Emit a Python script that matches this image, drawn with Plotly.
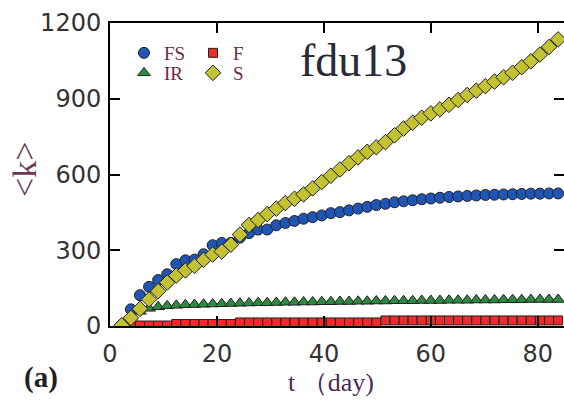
import plotly.graph_objects as go

t_days = [2.2, 3.9, 5.6, 7.3, 9.0, 10.7, 12.4, 14.1, 15.8, 17.5, 19.2, 20.9, 22.6,
          24.3, 26.0, 27.7, 29.4, 31.1, 32.8, 34.5, 36.2, 37.9, 39.6, 41.3, 43.0,
          44.7, 46.4, 48.1, 49.8, 51.5, 53.2, 54.9, 56.6, 58.3, 60.0, 61.7, 63.4,
          65.1, 66.8, 68.5, 70.2, 71.9, 73.6, 75.3, 77.0, 78.7, 80.4, 82.1, 83.8]

fs_vals = [4, 66, 122, 155, 182, 205, 245, 260, 263, 284, 320, 329, 329,
           350, 368, 382, 382, 399, 408, 416, 425, 431, 438, 447, 451,
           458, 465, 472, 479, 484, 490, 494, 498, 502, 505, 508, 511,
           513, 515, 517, 519, 520, 521, 522, 523, 524, 524, 525, 525]

s_vals = [3, 32, 68, 105, 138, 172, 200, 220, 238, 262, 283, 295, 322,
          362, 400, 420, 443, 465, 487, 504, 521, 545, 570, 595, 620,
          645, 668, 690, 708, 728, 755, 782, 805, 825, 842, 858, 876,
          895, 915, 932, 950, 968, 985, 1003, 1025, 1048, 1075, 1105, 1135]

ir_vals = [0, 35, 58, 70, 76, 80, 82, 84, 85, 86, 87, 88, 89,
           90, 91, 92, 92, 93, 94, 94, 95, 95, 96, 96, 97,
           97, 98, 98, 99, 99, 100, 100, 100, 101, 101, 101, 102,
           102, 102, 103, 103, 103, 104, 104, 104, 105, 105, 105, 105]

f_vals = [0, 0, 2, 2, 2, 2, 8, 8, 8, 8, 8, 8, 8,
          14, 14, 14, 14, 14, 14, 14, 14, 14, 14, 14, 14,
          14, 14, 14, 14, 22, 22, 22, 22, 22, 22, 22, 22,
          22, 22, 22, 22, 22, 22, 22, 22, 22, 22, 22, 22]

x_ticks = [0, 20, 40, 60, 80]
y_ticks = [0, 300, 600, 900, 1200]

W, H = 564, 400
L, R, T, B = 110, 0, 23, 74
pw, ph = W - L - R, H - T - B

def px(xp):
    return (xp - L) / pw

def py(yp):
    return (H - B - yp) / ph

outline = dict(color="#222222", width=1)
fig = go.Figure()
fig.add_trace(go.Scatter(x=t_days, y=fs_vals, mode="markers", name="FS", legend="legend",
                         marker=dict(symbol="circle", size=11, color="#1f55b5", line=outline)))
fig.add_trace(go.Scatter(x=t_days, y=ir_vals, mode="markers", name="IR", legend="legend2",
                         marker=dict(symbol="triangle-up", size=11, color="#2e8a3e", line=outline)))
fig.add_trace(go.Scatter(x=t_days, y=f_vals, mode="markers", name="F", legend="legend3",
                         marker=dict(symbol="square", size=9, color="#ee2a2a", line=outline)))
fig.add_trace(go.Scatter(x=t_days, y=s_vals, mode="markers", name="S", legend="legend4",
                         marker=dict(symbol="diamond", size=12, color="#c2c232", line=outline)))

legend_font = dict(family="Liberation Serif", size=19, color="#6e2a44")

def leg(xl, yt):
    return dict(x=px(xl), y=py(yt), xanchor="left", yanchor="top", font=legend_font,
                bgcolor="rgba(0,0,0,0)", itemwidth=30, tracegroupgap=0)

fig.update_layout(
    width=W, height=H,
    margin=dict(l=L, r=R, t=T, b=B, autoexpand=False),
    paper_bgcolor="white", plot_bgcolor="white",
    showlegend=True,
    legend=leg(124, 34),
    legend2=leg(124, 54),
    legend3=leg(193, 34),
    legend4=leg(193, 54),
    xaxis=dict(range=[0, 84.9], tickvals=x_ticks, ticks="inside", ticklen=10, tickwidth=2,
               tickcolor="black", showline=True, linecolor="black", linewidth=2, mirror="ticks",
               showgrid=False, zeroline=False, ticklabelstandoff=5, automargin=False,
               tickfont=dict(family="DejaVu Sans", size=24, color="#333333")),
    yaxis=dict(range=[0, 1200], tickvals=y_ticks, ticks="inside", ticklen=10, tickwidth=2,
               tickcolor="black", showline=True, linecolor="black", linewidth=2, mirror="ticks",
               showgrid=False, zeroline=False, ticklabelstandoff=2, automargin=False,
               tickfont=dict(family="DejaVu Sans", size=24, color="#333333")),
    annotations=[
        dict(text="fdu13", x=px(298), y=py(60), xref="paper", yref="paper", xanchor="left",
             yanchor="middle", showarrow=False,
             font=dict(family="Liberation Serif", size=46, color="#2a2a3a")),
        dict(text="&lt;k&gt;", x=px(24), y=py(170), xref="paper", yref="paper",
             xanchor="center", yanchor="middle", textangle=-90, showarrow=False,
             font=dict(family="Liberation Serif", size=34, color="#6a3a55")),
        dict(text="t （day)", x=px(331), y=py(382), xref="paper", yref="paper",
             xanchor="center", yanchor="middle", showarrow=False,
             font=dict(family="Liberation Serif", size=26, color="#4a2a55")),
        dict(text="<b>(a)</b>", x=px(41), y=py(377), xref="paper", yref="paper",
             xanchor="center", yanchor="middle", showarrow=False,
             font=dict(family="Liberation Serif", size=29, color="#222222")),
    ],
)

fig.write_html("out.html", config={"displayModeBar": False},
               post_script="document.body.style.margin='0px';")
